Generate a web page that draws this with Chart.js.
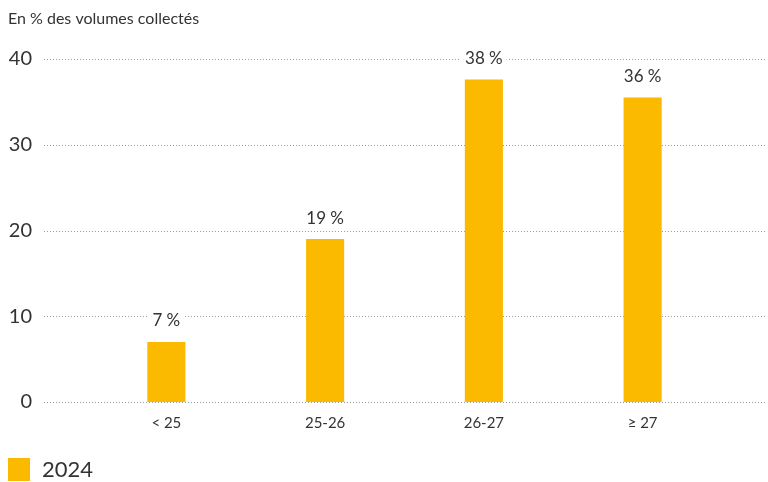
<!DOCTYPE html>
<html>
<head>
<meta charset="utf-8">
<script src="https://cdn.jsdelivr.net/npm/chart.js@4/dist/chart.umd.min.js"></script>
<style>
  html, body { margin: 0; padding: 0; background: #fff; }
  #wrap { width: 768px; height: 482px; position: relative; }
</style>
</head>
<body>
<div id="wrap"><canvas id="chart"></canvas></div>
<script>
// Données du graphique
const categories = ['<\u202f25', '25-26', '26-27', '\u2265\u202f27'];
const seriesLabel = '2024';
const values = [7, 19, 37.6, 35.5];
const yTicks = [0, 10, 20, 30, 40];
const titleText = 'En % des volumes collectés';

const barColor = '#FBB900';
const textColor = '#333333';
const fontFamily = 'Lato, "Open Sans", sans-serif';

// Titre en haut à gauche et légende en bas à gauche
const frameTexts = {
    id: 'frameTexts',
    afterDraw(chart) {
        const ctx = chart.ctx;
        ctx.save();
        ctx.fillStyle = textColor;
        ctx.textAlign = 'left';
        ctx.textBaseline = 'middle';
        ctx.font = '16px ' + fontFamily;
        ctx.fillText(titleText, 8, 19);

        ctx.fillStyle = barColor;
        ctx.fillRect(8, 458, 22, 23);
        ctx.fillStyle = textColor;
        ctx.font = '22px ' + fontFamily;
        ctx.fillText(seriesLabel, 42, 470);
        ctx.restore();
    }
};

// Lignes pointillées qui débordent de la zone du graphique
const dottedGrid = {
    id: 'dottedGrid',
    beforeDatasetsDraw(chart) {
        const ctx = chart.ctx;
        const y = chart.scales.y;
        ctx.save();
        ctx.strokeStyle = '#9a9a9a';
        ctx.lineWidth = 1;
        ctx.setLineDash([1, 2]);
        yTicks.forEach(t => {
            const py = Math.round(y.getPixelForValue(t)) + 0.5;
            ctx.beginPath();
            ctx.moveTo(44, py);
            ctx.lineTo(765, py);
            ctx.stroke();
        });
        ctx.restore();
    }
};

// Étiquettes de valeur au-dessus des barres
const valueLabels = {
    id: 'valueLabels',
    afterDatasetsDraw(chart) {
        const ctx = chart.ctx;
        const meta = chart.getDatasetMeta(0);
        ctx.save();
        ctx.font = '17px ' + fontFamily;
        ctx.textAlign = 'center';
        ctx.textBaseline = 'middle';
        meta.data.forEach((bar, i) => {
            const txt = Math.round(values[i]) + '\u202f%';
            const w = ctx.measureText(txt).width;
            const cy = bar.y - 21;
            ctx.fillStyle = '#fff';
            ctx.fillRect(bar.x - w / 2 - 4, cy - 10, w + 8, 20);
            ctx.fillStyle = textColor;
            ctx.fillText(txt, bar.x, cy);
        });
        ctx.restore();
    }
};

new Chart(document.getElementById('chart'), {
    type: 'bar',
    data: {
        labels: categories,
        datasets: [{
            label: seriesLabel,
            data: values,
            backgroundColor: barColor,
            borderWidth: 0,
            barPercentage: 1,
            categoryPercentage: 0.24
        }]
    },
    options: {
        responsive: true,
        maintainAspectRatio: false,
        animation: false,
        layout: {
            padding: { left: 8, right: 46, top: 59, bottom: 0 }
        },
        plugins: {
            title: { display: false },
            legend: { display: false },
            tooltip: { enabled: false }
        },
        scales: {
            x: {
                grid: { display: false, drawTicks: false },
                border: { display: false },
                ticks: {
                    color: textColor,
                    padding: 12,
                    font: { family: fontFamily, size: 15 }
                },
                afterFit(scale) { scale.height = 80; }
            },
            y: {
                min: 0,
                max: 40,
                grid: { display: false, drawTicks: false },
                border: { display: false },
                ticks: {
                    stepSize: 10,
                    color: textColor,
                    padding: 55,
                    font: { family: fontFamily, size: 20 }
                },
                afterFit(scale) {
                    scale.width = 79;
                    // le padding des graduations ne doit pas réduire la zone du graphique
                    scale.paddingTop = 0;
                    scale.paddingBottom = 0;
                }
            }
        }
    },
    plugins: [frameTexts, dottedGrid, valueLabels]
});
</script>
</body>
</html>
